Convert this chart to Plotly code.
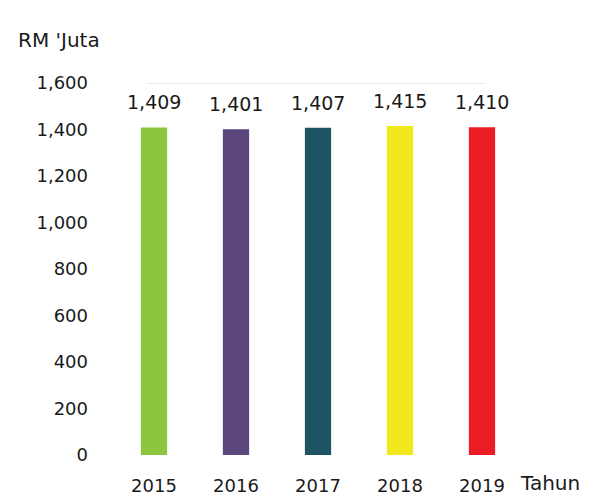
import plotly.graph_objects as go

years = ["2015", "2016", "2017", "2018", "2019"]
values = [1409, 1401, 1407, 1415, 1410]
colors = ["#8cc63f", "#5c477c", "#1d5363", "#f2e71a", "#ec1c24"]
y_ticks = [0, 200, 400, 600, 800, 1000, 1200, 1400, 1600]

font_family = "DejaVu Sans, Lato, sans-serif"

fig = go.Figure(go.Bar(
    x=years, y=values,
    marker=dict(color=colors, line=dict(width=0)),
    width=0.32,
    cliponaxis=False,
))

annotations = [
    dict(x=i, y=v, xref="x", yref="y", text=f"{v:,}", showarrow=False,
         xanchor="center", yanchor="bottom", yshift=12,
         font=dict(size=19, family=font_family, color="#1a1a1a"))
    for i, v in enumerate(values)
]

fig.add_shape(type="line", xref="x", yref="y", x0=-0.1, x1=4.05, y0=1600, y1=1600,
              line=dict(color="#d8d8d8", width=1))

# Page body has an 8px margin, so the figure is 8px smaller than the window.
W, H = 598, 490
L, T, R, B = 105, 75, 83, 43
pw, ph = W - L - R, H - T - B

annotations += [
    dict(text="RM 'Juta", xref="paper", yref="paper", x=-(L - 8) / pw, y=1 + 43 / ph,
         xanchor="left", yanchor="middle", showarrow=False,
         font=dict(size=20, family=font_family, color="#1a1a1a")),
    dict(text="Tahun", xref="paper", yref="paper", x=1 - 5 / pw, y=-28 / ph,
         xanchor="left", yanchor="middle", showarrow=False,
         font=dict(size=20, family=font_family, color="#1a1a1a")),
]

fig.update_layout(
    width=W, height=H,
    margin=dict(l=L, r=R, t=T, b=B, autoexpand=False),
    paper_bgcolor="white", plot_bgcolor="white",
    showlegend=False,
    font=dict(family=font_family, color="#1a1a1a", size=18),
    xaxis=dict(type="category", range=[-0.5, 4.5], showgrid=False, zeroline=False,
               showline=False, ticks="", ticklabelstandoff=18, automargin=False,
               tickfont=dict(size=18)),
    yaxis=dict(range=[0, 1600], tickvals=y_ticks, tickformat=",", showgrid=False,
               zeroline=False, showline=False, ticks="", ticklabelstandoff=24,
               automargin=False, tickfont=dict(size=18)),
    annotations=annotations,
)

fig.write_html("out.html")
